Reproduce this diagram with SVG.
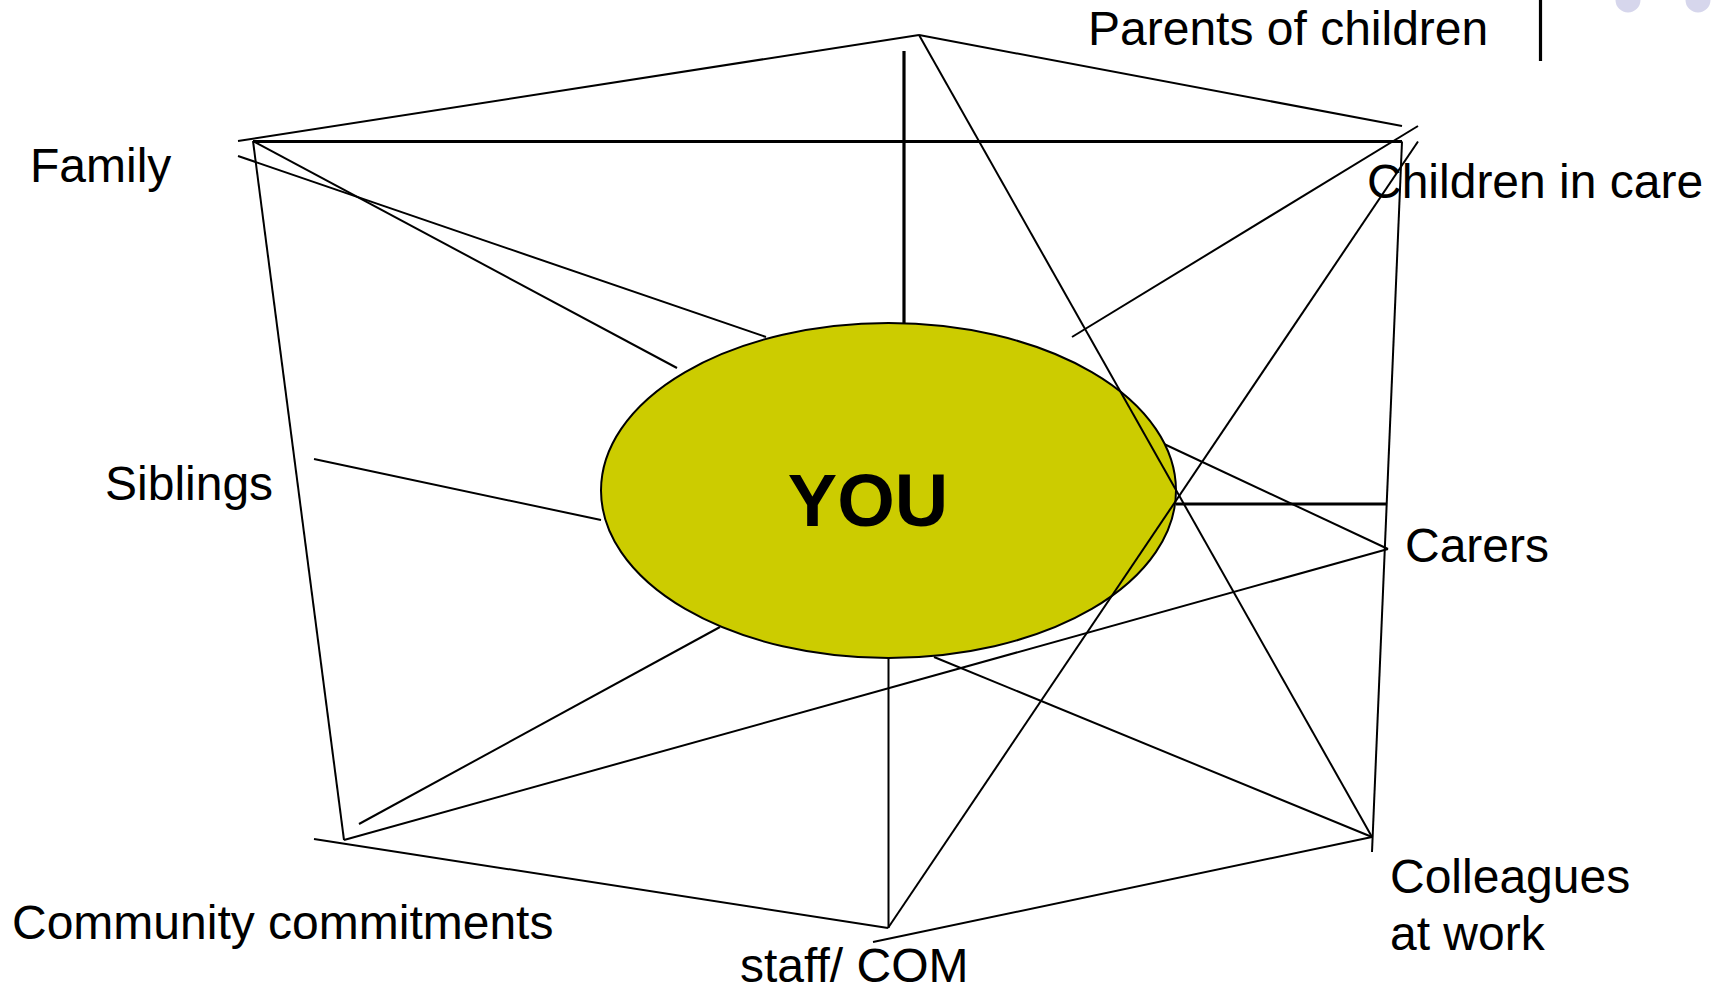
<svg xmlns="http://www.w3.org/2000/svg" width="1720" height="990" viewBox="0 0 1720 990">
  <style>
    .lbl { font-family: "Liberation Sans", Arial, sans-serif; font-size: 48px; fill: #000; }
    .you { font-family: "Liberation Sans", Arial, sans-serif; font-size: 74px; font-weight: bold; fill: #000; }
    .thin { stroke: #000; stroke-width: 2; fill: none; }
    .thick { stroke: #000; stroke-width: 3.2; fill: none; }
    .dot { fill: #d6d6ec; }
  </style>
  <rect x="0" y="0" width="1720" height="990" fill="#ffffff"/>

  <g id="decor">
    <circle class="dot" cx="1628" cy="0" r="12.5"/>
    <circle class="dot" cx="1698" cy="0" r="12.5"/>
    <line class="thick" x1="1540.5" y1="0" x2="1540.5" y2="61"/>
  </g>

  <g id="connectors">
    <line class="thin" x1="238" y1="141" x2="919" y2="35"/>
    <line class="thin" x1="919" y1="35" x2="1402" y2="126"/>
    <line class="thin" x1="253" y1="141" x2="344" y2="840"/>
    <line class="thin" x1="1402" y1="141.5" x2="1372" y2="852"/>
    <line class="thin" x1="314" y1="839" x2="888" y2="928"/>
    <line class="thin" x1="873" y1="942" x2="1372" y2="837"/>
    <line class="thin" x1="238" y1="156" x2="766" y2="337"/>
    <line class="thin" x1="253" y1="141" x2="677" y2="368"/>
    <line class="thin" x1="1418" y1="126" x2="1072" y2="337"/>
    <line class="thin" x1="314" y1="459" x2="601" y2="520"/>
    <line class="thin" x1="720" y1="627" x2="359" y2="824"/>
    <line class="thin" x1="344" y1="840" x2="1388" y2="549"/>
    <line class="thin" x1="1164" y1="444" x2="1388" y2="549"/>
    <line class="thin" x1="934" y1="657" x2="1372" y2="837"/>
    <line class="thin" x1="888.5" y1="658" x2="888.5" y2="928"/>
    <line class="thick" x1="253" y1="141.5" x2="1402" y2="141.5"/>
    <line class="thick" x1="904" y1="51" x2="904" y2="323"/>
    <line class="thick" x1="1176" y1="504" x2="1387" y2="504"/>
  </g>

  <g id="node-you">
    <ellipse cx="888.5" cy="490.5" rx="287.5" ry="167.5" fill="#cccc00" stroke="#000" stroke-width="2"/>
    <text class="you" x="868" y="526" text-anchor="middle">YOU</text>
  </g>

  <g id="connectors-over">
    <line class="thin" x1="919" y1="35" x2="1372" y2="837"/>
    <line class="thin" x1="1418" y1="141.5" x2="888" y2="928"/>
  </g>

  <g id="node-parents"><text class="lbl" x="1088" y="45">Parents of children</text></g>
  <g id="node-family"><text class="lbl" x="30" y="182">Family</text></g>
  <g id="node-children"><text class="lbl" x="1367" y="198">Children in care</text></g>
  <g id="node-siblings"><text class="lbl" x="105" y="500">Siblings</text></g>
  <g id="node-carers"><text class="lbl" x="1405" y="562">Carers</text></g>
  <g id="node-colleagues"><text class="lbl" x="1390" y="893">Colleagues</text><text class="lbl" x="1390" y="950">at work</text></g>
  <g id="node-community"><text class="lbl" x="12" y="939">Community commitments</text></g>
  <g id="node-staff"><text class="lbl" x="740" y="982">staff/ COM</text></g>
</svg>
